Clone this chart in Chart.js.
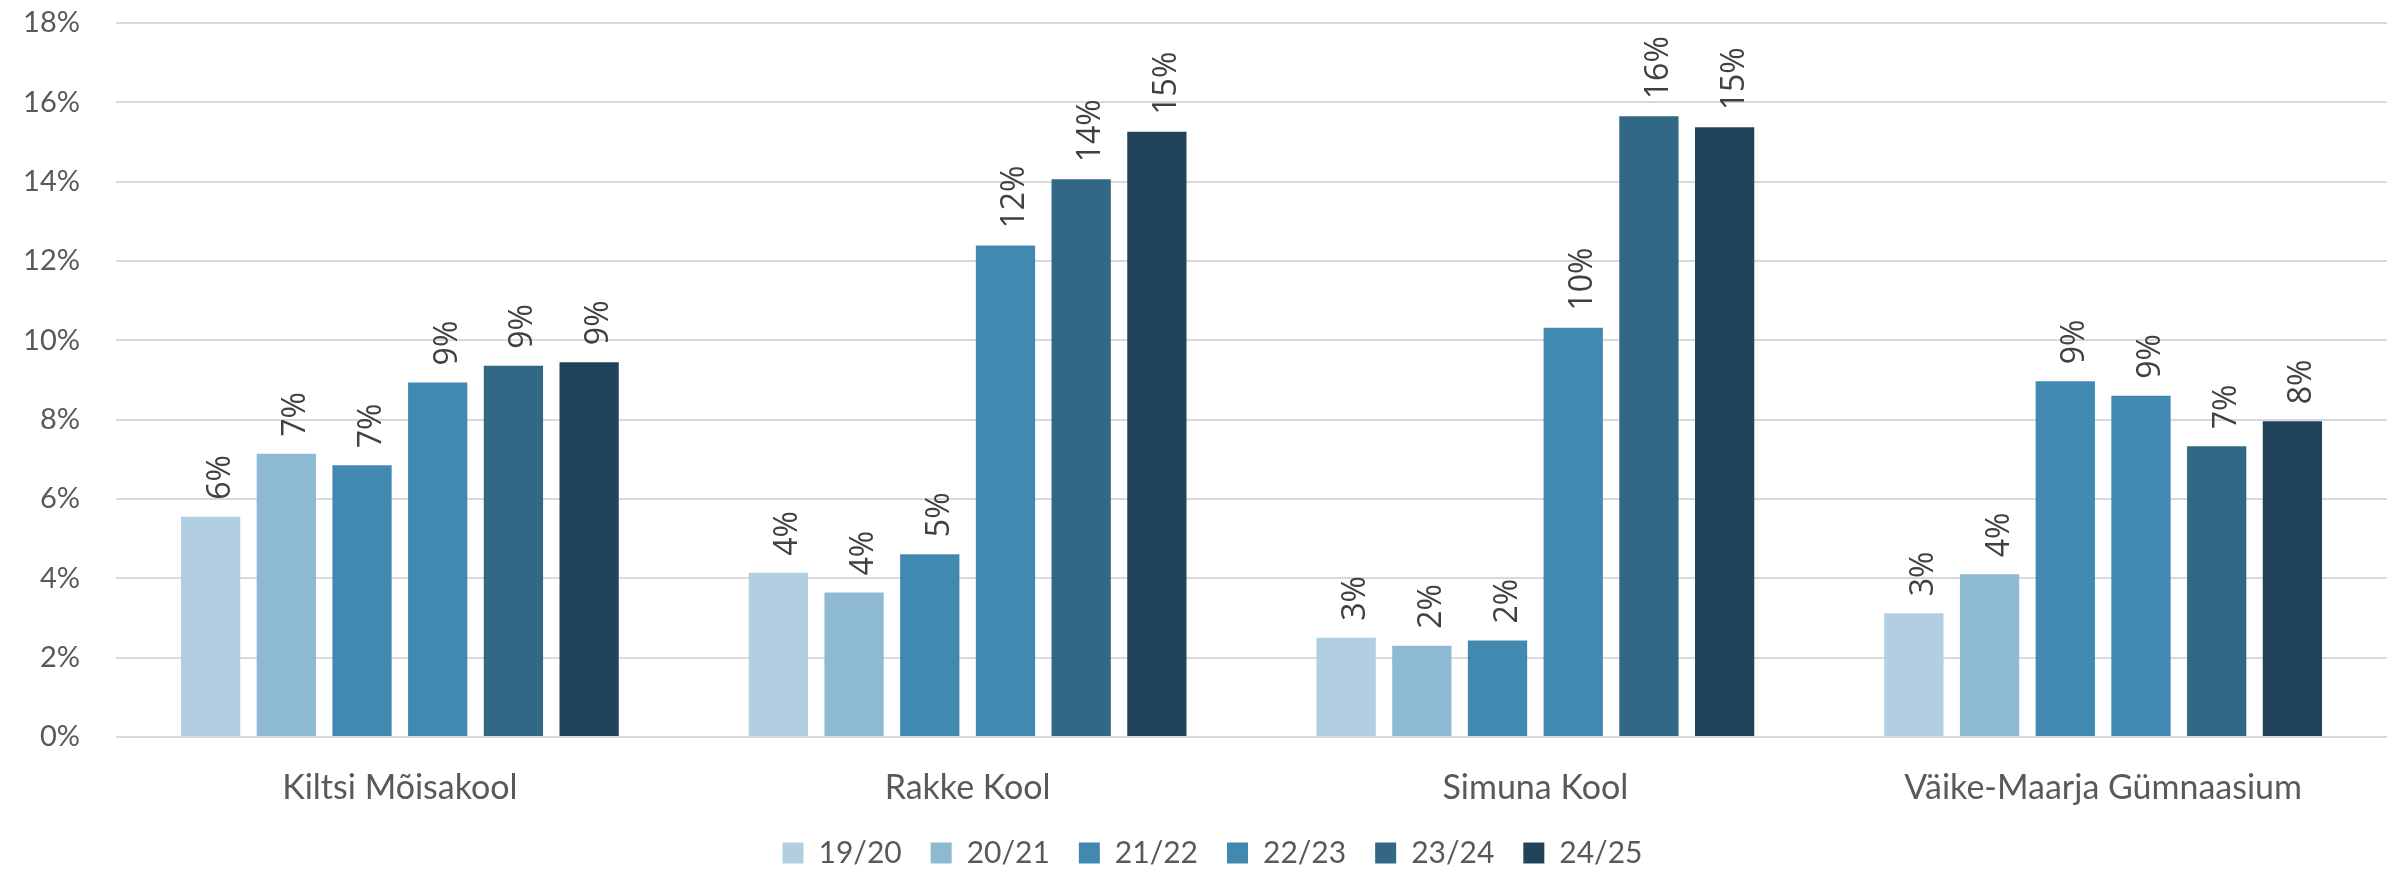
<!DOCTYPE html>
<html>
<head>
<meta charset="utf-8">
<script src="https://cdn.jsdelivr.net/npm/chart.js@4.4.1/dist/chart.umd.min.js"></script>
<style>
  html, body { margin: 0; padding: 0; background: #ffffff; }
  #wrap { width: 2400px; height: 873px; position: relative; }
</style>
</head>
<body>
<div id="wrap"><canvas id="chart" width="2400" height="873"></canvas></div>
<script>
// schools on the x axis
const schools = ["Kiltsi Mõisakool", "Rakke Kool", "Simuna Kool", "Väike-Maarja Gümnaasium"]
// school years, one bar each
const years = ["19/20", "20/21", "21/22", "22/23", "23/24", "24/25"]

// share in %, one value per school
const y1920 = [5.55, 4.14, 2.5, 3.12]
const y2021 = [7.14, 3.64, 2.3, 4.1]
const y2122 = [6.85, 4.61, 2.43, 8.97]
const y2223 = [8.94, 12.39, 10.32, 8.6]
const y2324 = [9.36, 14.06, 15.65, 7.33]
const y2425 = [9.45, 15.26, 15.37, 7.96]

const yTicks = [0, 2, 4, 6, 8, 10, 12, 14, 16, 18]

const seriesValues = [y1920, y2021, y2122, y2223, y2324, y2425]
const colors = ["#b1cfe1", "#8db9d3", "#4289b2", "#4289b2", "#326886", "#21445a"]

// rotated value labels above the bars
const barLabels = {
    id: "barLabels",
    afterDatasetsDraw(chart) {
        const ctx = chart.ctx
        ctx.save()
        ctx.fillStyle = "#404040"
        ctx.font = "32px 'Open Sans'"
        ctx.textAlign = "left"
        ctx.textBaseline = "alphabetic"
        chart.data.datasets.forEach((ds, i) => {
            chart.getDatasetMeta(i).data.forEach((bar, j) => {
                ctx.save()
                ctx.translate(bar.x + 19, bar.y - 17)
                ctx.rotate(-Math.PI / 2)
                ctx.fillText(Math.round(ds.data[j]) + "%", 0, 0)
                ctx.restore()
            })
        })
        ctx.restore()
    },
}

// the legend sits a bit right of the canvas centre
const legendShift = {
    id: "legendShift",
    afterLayout(chart) {
        if (chart.legend) {
            chart.legend.left += 19
            chart.legend.right += 19
        }
    },
}

new Chart(document.getElementById("chart"), {
    type: "bar",
    data: {
        labels: schools,
        datasets: years.map((y, i) => ({
            label: y,
            data: seriesValues[i],
            backgroundColor: colors[i],
            borderWidth: 0,
            categoryPercentage: 0.8,
            barPercentage: 0.783,
        })),
    },
    options: {
        responsive: false,
        animation: false,
        layout: {
            padding: { top: 23, right: 13, left: 0, bottom: -5 },
        },
        plugins: {
            legend: {
                position: "bottom",
                labels: {
                    color: "#595959",
                    font: { family: "Lato", size: 30 },
                    boxWidth: 21,
                    boxHeight: 21,
                    padding: 29,
                },
            },
            tooltip: { enabled: false },
        },
        scales: {
            x: {
                grid: { display: false, drawTicks: false },
                border: { display: false },
                ticks: {
                    color: "#595959",
                    font: { family: "Lato", size: 34 },
                    padding: 31,
                },
                afterFit: (scale) => {
                    scale.height = 72
                },
            },
            y: {
                min: 0,
                max: 18,
                afterBuildTicks: (scale) => {
                    scale.ticks = yTicks.map((v) => ({ value: v }))
                },
                grid: { color: "#d9d9d9", lineWidth: 2, drawTicks: false },
                border: { display: false },
                ticks: {
                    color: "#595959",
                    font: { family: "Lato", size: 29 },
                    padding: 36,
                    callback: (v) => v + "%",
                },
                afterFit: (scale) => {
                    scale.width = 116
                    scale.paddingTop = 0
                    scale.paddingBottom = 0
                },
            },
        },
    },
    plugins: [barLabels, legendShift],
})
</script>
</body>
</html>
